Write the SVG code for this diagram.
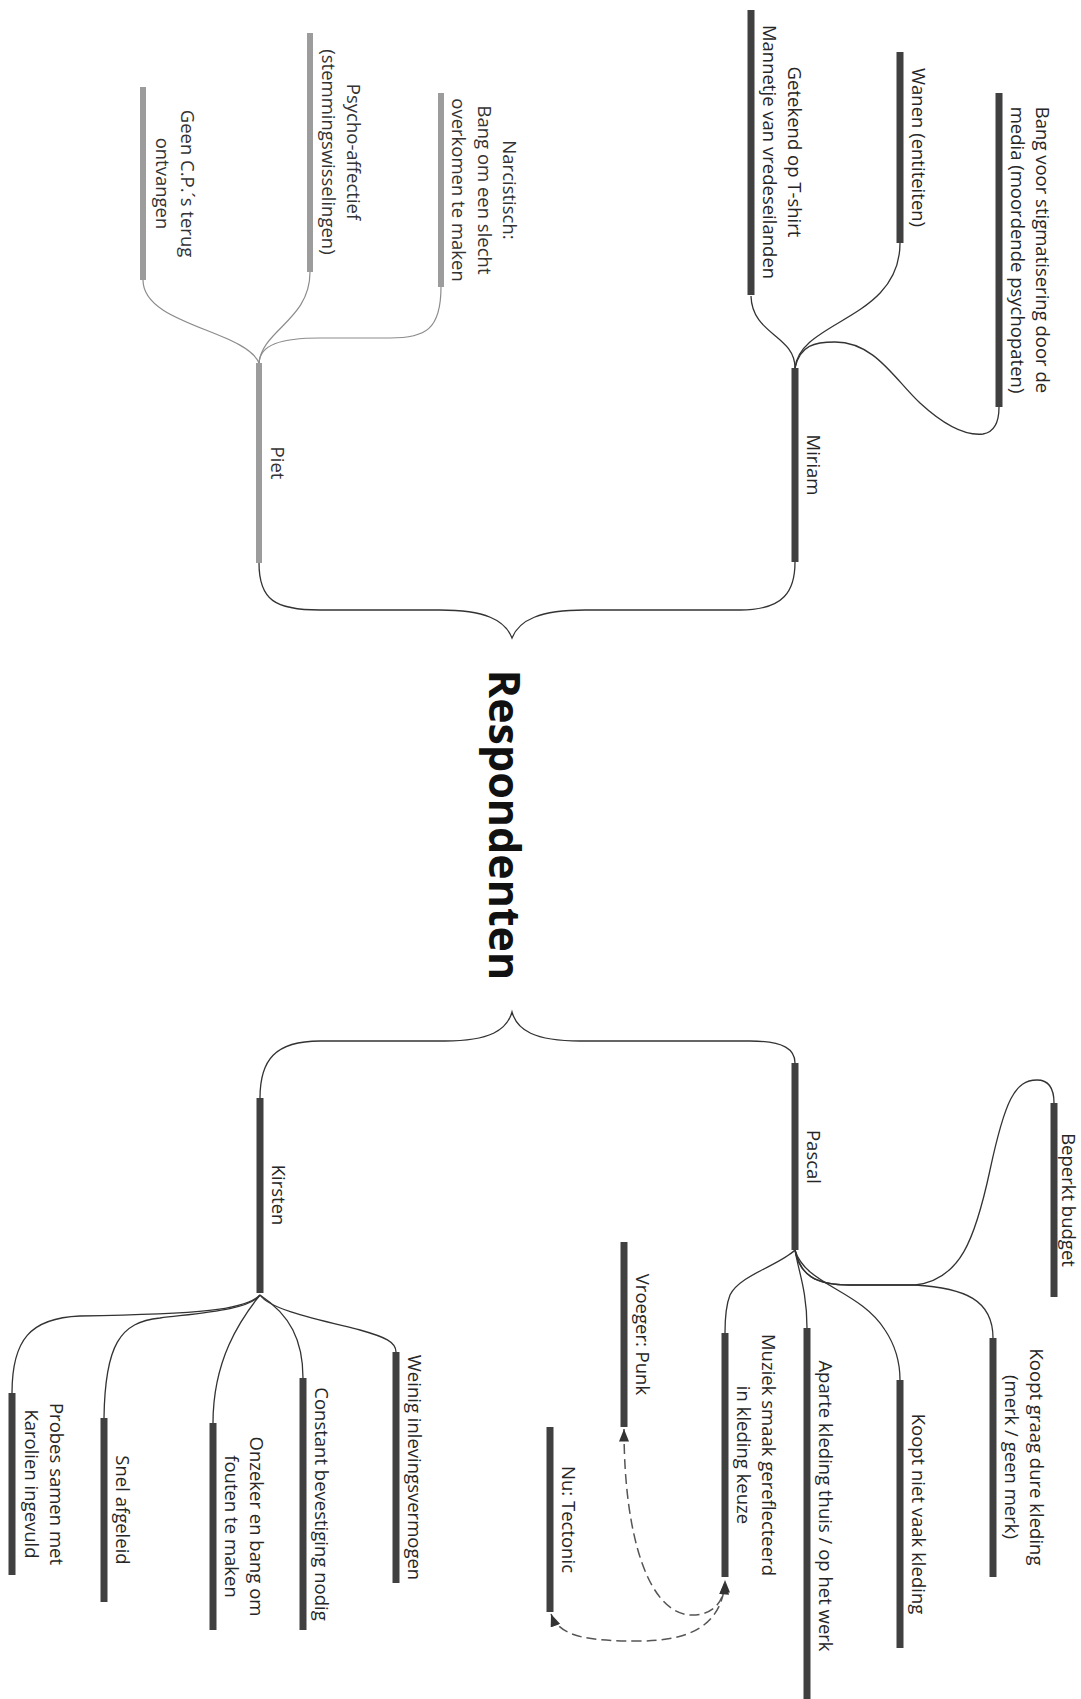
<svg xmlns="http://www.w3.org/2000/svg" width="1081" height="1699" viewBox="0 0 1081 1699">
<style>
.bar{stroke:#404040;stroke-width:7;stroke-linecap:butt;fill:none}
.bar.g{stroke:#9c9c9c;stroke-width:6}
.lbl{font-family:"Open Sans","Liberation Sans",sans-serif;font-size:18.5px;fill:#262626;text-anchor:middle}
.lbl.g{fill:#333}
.title{font-family:"Open Sans","Liberation Sans",sans-serif;font-size:43px;font-weight:bold;fill:#111;text-anchor:middle}
.con{fill:none;stroke:#333;stroke-width:1.3}
.con.g{stroke:#8c8c8c;stroke-width:1.2}
.dash{fill:none;stroke:#555;stroke-width:1.5;stroke-dasharray:10 5}
</style>
<defs>
<marker id="arr" viewBox="0 0 10 8" refX="10" refY="4" markerWidth="13" markerHeight="10" markerUnits="userSpaceOnUse" orient="auto-start-reverse">
<path d="M0,0 L10,4 L0,8 z" fill="#333"/>
</marker>
</defs>
<rect width="1081" height="1699" fill="#fff"/>

<g id="connectors">
<path class="con" d="M259,563 C259,600 275,610 320,610 L440,610 C485,610 505,620 512,638 C519,620 540,610 585,610 L740,610 C785,610 795,590 795,562"/>
<path class="con" d="M260,1098 C260,1060 275,1041 320,1041 L445,1041 C490,1041 507,1030 512,1012 C517,1030 534,1041 580,1041 L750,1041 C785,1041 795,1050 795,1063"/>
<path class="con" d="M751,296 C752,335 795,335 795,368"/>
<path class="con" d="M900,243 C900,320 800,320 795,368"/>
<path class="con" d="M795,368 C800,345 815,342 835,342 C875,342 895,380 920,403 C945,426 965,436 983,434 C995,432 999,420 999,407"/>
<path class="con g" d="M143,280 C143,325 245,330 259,363"/>
<path class="con g" d="M310,272 C310,320 262,330 259,363"/>
<path class="con g" d="M441,287 C441,330 425,338 390,338 L320,338 C280,338 260,345 259,363"/>
<path class="con" d="M795,1250 C800,1275 815,1285 850,1285 L915,1285 C960,1280 975,1240 990,1170 C1005,1100 1015,1080 1037,1080 C1050,1080 1054,1090 1054,1103"/>
<path class="con" d="M795,1250 C800,1275 815,1285 850,1285 L915,1285 C965,1288 993,1300 993,1338"/>
<path class="con" d="M795,1250 C805,1285 860,1290 885,1330 C895,1345 900,1360 900,1380"/>
<path class="con" d="M795,1250 C798,1270 807,1290 807,1328"/>
<path class="con" d="M795,1250 C780,1265 740,1275 730,1295 C726,1305 725,1320 725,1333"/>
<path class="con" d="M260,1295 C270,1310 320,1320 360,1330 C385,1337 396,1342 396,1352"/>
<path class="con" d="M260,1295 C290,1315 303,1340 303,1378"/>
<path class="con" d="M260,1295 C240,1320 213,1360 213,1423"/>
<path class="con" d="M260,1295 C250,1310 200,1313 160,1318 C120,1322 105,1345 104,1418"/>
<path class="con" d="M260,1295 C245,1310 200,1314 80,1316 C30,1318 12,1340 12,1393"/>
<path class="dash" marker-start="url(#arr)" marker-end="url(#arr)" d="M624,1429 C624,1540 650,1615 692,1615 C715,1615 725,1600 725,1580"/>
<path class="dash" marker-start="url(#arr)" marker-end="url(#arr)" d="M551,1614 C560,1638 590,1641 640,1641 C690,1641 722,1625 725,1582"/>
</g>

<g id="respondenten">
<text class="title" transform="translate(489,825) rotate(90)">Respondenten</text>
</g>

<g id="miriam">
<line class="bar" x1="795" y1="368" x2="795" y2="562"/>
<text class="lbl" transform="translate(807,465) rotate(90)">Miriam</text>
</g>
<g id="getekend">
<line class="bar" x1="751" y1="10" x2="751" y2="295"/>
<text class="lbl" transform="translate(788,152) rotate(90)"><tspan x="0" y="0">Getekend op T-shirt</tspan><tspan x="0" y="25">Mannetje van vredeseilanden</tspan></text>
</g>
<g id="wanen">
<line class="bar" x1="900" y1="52" x2="900" y2="243"/>
<text class="lbl" transform="translate(912,147.5) rotate(90)">Wanen (entiteiten)</text>
</g>
<g id="bang">
<line class="bar" x1="999" y1="93" x2="999" y2="407"/>
<text class="lbl" transform="translate(1036,250) rotate(90)"><tspan x="0" y="0">Bang voor stigmatisering door de</tspan><tspan x="0" y="25">media (moordende psychopaten)</tspan></text>
</g>

<g id="piet">
<line class="bar g" x1="259" y1="363" x2="259" y2="563"/>
<text class="lbl g" transform="translate(271,463) rotate(90)">Piet</text>
</g>
<g id="geen">
<line class="bar g" x1="143" y1="87" x2="143" y2="280"/>
<text class="lbl g" transform="translate(181,183.5) rotate(90)"><tspan x="0" y="0">Geen C.P.´s terug</tspan><tspan x="0" y="25">ontvangen</tspan></text>
</g>
<g id="psycho">
<line class="bar g" x1="310" y1="33" x2="310" y2="272"/>
<text class="lbl g" transform="translate(347,152) rotate(90)"><tspan x="0" y="0">Psycho-affectief</tspan><tspan x="0" y="25">(stemmingswisselingen)</tspan></text>
</g>
<g id="narcistisch">
<line class="bar g" x1="441" y1="93" x2="441" y2="287"/>
<text class="lbl g" transform="translate(503,190) rotate(90)"><tspan x="0" y="0">Narcistisch:</tspan><tspan x="0" y="25.5">Bang om een slecht</tspan><tspan x="0" y="51">overkomen te maken</tspan></text>
</g>

<g id="pascal">
<line class="bar" x1="795" y1="1063" x2="795" y2="1250"/>
<text class="lbl" transform="translate(807,1157) rotate(90)">Pascal</text>
</g>
<g id="beperkt">
<line class="bar" x1="1054" y1="1103" x2="1054" y2="1297"/>
<text class="lbl" transform="translate(1062,1200) rotate(90)">Beperkt budget</text>
</g>
<g id="kooptgraag">
<line class="bar" x1="993" y1="1338" x2="993" y2="1577"/>
<text class="lbl" transform="translate(1030,1457) rotate(90)"><tspan x="0" y="0">Koopt graag dure kleding</tspan><tspan x="0" y="25">(merk / geen merk)</tspan></text>
</g>
<g id="kooptniet">
<line class="bar" x1="900" y1="1380" x2="900" y2="1648"/>
<text class="lbl" transform="translate(912,1514) rotate(90)">Koopt niet vaak kleding</text>
</g>
<g id="aparte">
<line class="bar" x1="807" y1="1328" x2="807" y2="1705"/>
<text class="lbl" transform="translate(819,1506) rotate(90)">Aparte kleding thuis / op het werk</text>
</g>
<g id="muziek">
<line class="bar" x1="725" y1="1333" x2="725" y2="1577"/>
<text class="lbl" transform="translate(762,1455) rotate(90)"><tspan x="0" y="0">Muziek smaak gereflecteerd</tspan><tspan x="0" y="25">in kleding keuze</tspan></text>
</g>
<g id="vroeger">
<line class="bar" x1="624" y1="1242" x2="624" y2="1427"/>
<text class="lbl" transform="translate(636,1334.5) rotate(90)">Vroeger: Punk</text>
</g>
<g id="tectonic">
<line class="bar" x1="550" y1="1427" x2="550" y2="1612"/>
<text class="lbl" transform="translate(562,1519.5) rotate(90)">Nu: Tectonic</text>
</g>

<g id="kirsten">
<line class="bar" x1="260" y1="1098" x2="260" y2="1293"/>
<text class="lbl" transform="translate(272,1195) rotate(90)">Kirsten</text>
</g>
<g id="weinig">
<line class="bar" x1="396" y1="1352" x2="396" y2="1583"/>
<text class="lbl" transform="translate(408,1467.5) rotate(90)">Weinig inlevingsvermogen</text>
</g>
<g id="constant">
<line class="bar" x1="303" y1="1378" x2="303" y2="1630"/>
<text class="lbl" transform="translate(315,1504) rotate(90)">Constant bevestiging nodig</text>
</g>
<g id="onzeker">
<line class="bar" x1="213" y1="1423" x2="213" y2="1630"/>
<text class="lbl" transform="translate(250,1526.5) rotate(90)"><tspan x="0" y="0">Onzeker en bang om</tspan><tspan x="0" y="25.5">fouten te maken</tspan></text>
</g>
<g id="snel">
<line class="bar" x1="104" y1="1418" x2="104" y2="1602"/>
<text class="lbl" transform="translate(116,1510) rotate(90)">Snel afgeleid</text>
</g>
<g id="probes">
<line class="bar" x1="12" y1="1393" x2="12" y2="1575"/>
<text class="lbl" transform="translate(50,1484) rotate(90)"><tspan x="0" y="0">Probes samen met</tspan><tspan x="0" y="25.5">Karolien ingevuld</tspan></text>
</g>
</svg>
